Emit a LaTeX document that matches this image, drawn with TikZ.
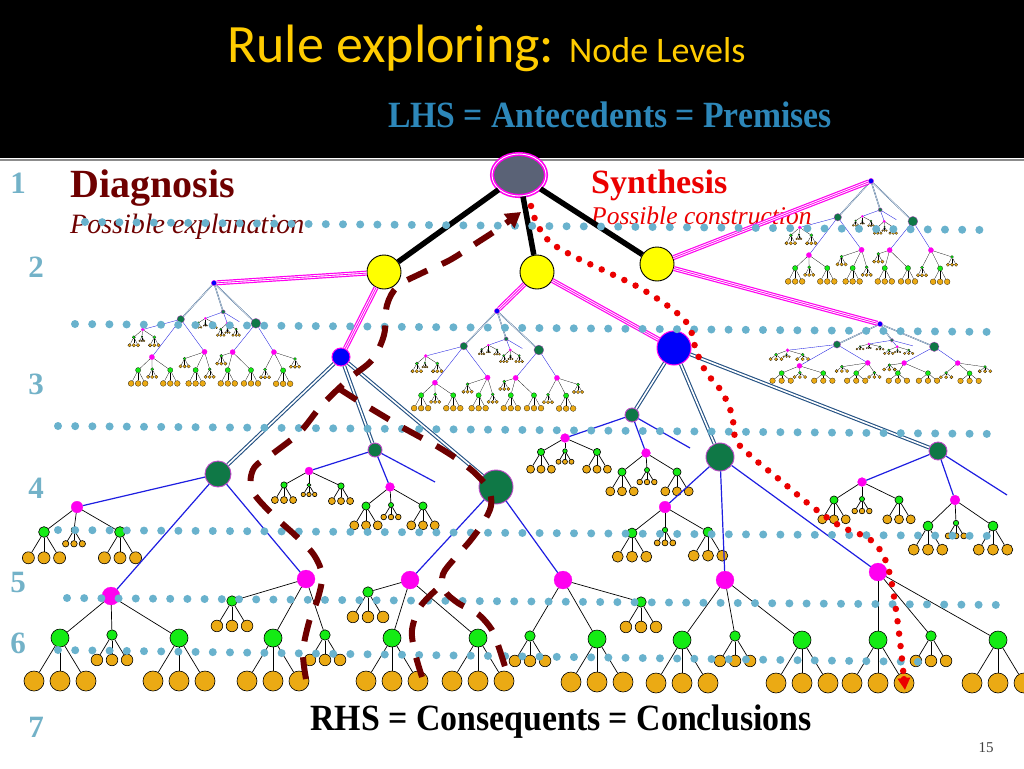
\documentclass[tikz,border=0pt]{standalone}
\usepackage{fontspec}
\setmainfont{Liberation Serif}
\newfontfamily\titlefont{Carlito}
\usetikzlibrary{shapes.geometric,arrows.meta}
\definecolor{ytitle}{RGB}{255,204,0}
\definecolor{lhsblue}{RGB}{45,135,185}
\definecolor{numblue}{RGB}{115,178,200}
\definecolor{dkred}{RGB}{110,0,0}
\definecolor{synred}{RGB}{235,0,0}
\definecolor{dotblue}{RGB}{105,178,205}
\definecolor{lgreen}{RGB}{20,235,20}
\definecolor{lorange}{RGB}{235,170,20}
\definecolor{lmag}{RGB}{255,0,240}
\definecolor{dkgreen}{RGB}{15,120,70}
\definecolor{dpurple}{RGB}{190,70,200}
\definecolor{bblue}{RGB}{0,0,250}
\definecolor{lineblue}{RGB}{30,30,225}
\definecolor{dblue}{RGB}{35,80,130}
\definecolor{rootgray}{RGB}{90,98,118}
\definecolor{yfill}{RGB}{255,255,0}

% green node with three orange leaves
\newcommand\mktri[4]{%
 \begin{scope}[shift={(#2,#3)}]
  \node[gnode,minimum size={18*#4*\zs}] (#1) at (0,0) {};
  \foreach \lk/\lx in {a/-26,b/0,c/26} {%
    \node[onode,minimum size={20*#4*\zs}] (#1\lk) at ({\lx*#4},{43*#4}) {};
    \draw[leafline] (#1) -- (#1\lk);
  }
 \end{scope}}
% magenta node with three green children
\newcommand\mkfam[5]{%
 \begin{scope}[shift={(#2,#3)}]
  \node[mnode,minimum size={18*#4*\zs}] (#1) at (0,0) {};
  \foreach \cid/\cx/\cy/\ct in {#5} {%
    \mktri{#1\cid}{\cx}{\cy}{\ct}
    \draw[leafline] (#1) -- (#1\cid);
  }
 \end{scope}}
% a level-3 subtree
\newcommand\mksub[6]{%
 \begin{scope}[shift={(#2,#3)},xscale=#4,yscale=#5]
  \def\zs{#6}%
  \node[bnode,minimum size={18*\zs}] (#1) at (0,0) {};
  \node[dnode,minimum size={26*\zs}] (#11) at (-123,117) {};
  \node[dnode,minimum size={14*\zs}] (#12) at (34,93) {};
  \node[dnode,minimum size={34*\zs}] (#13) at (155,130) {};
  \foreach \k in {1,2,3} {\draw[dline] (#1) -- (#1\k);}
  \mkfam{#11a}{-264}{150}{0.65}{L/-33/25/0.6,M/-3/23/0.32,R/43/25/0.6}
  \mkfam{#11b}{-230}{239}{1}{L/-51/42/1,M/1/39/0.58,R/68/42/1}
  \mkfam{#11c}{-35}{222}{1}{L/-74/22/0.58,M/-33/59/1,R/19/56/0.58}
  \mkfam{#12a}{-32}{114}{0.45}{L/-25/14/0.35,M/0/14/0.22,R/32/15/0.35}
  \mkfam{#12b}{49}{130}{0.5}{L/-24/19/0.45,M/1/18/0.28,R/33/19/0.45}
  \coordinate (#12e) at (94,125);
  \mkfam{#13a}{69}{223}{1}{L/-42/12/0.58,M/-18/58/1,R/68/58/1}
  \mkfam{#13b}{222}{223}{1}{L/-33/56/0.58,M/34/59/1,R/78/22/0.58}
  \foreach \f in {a,b,c} {\draw[bline] (#11) -- (#11\f);}
  \foreach \f in {a,b,e} {\draw[bline] (#12) -- (#12\f);}
  \foreach \f in {a,b} {\draw[bline] (#13) -- (#13\f);}
 \end{scope}}

\begin{document}
\begin{tikzpicture}[x=1pt,y=-1pt,
  gnode/.style={circle,inner sep=0pt,fill=lgreen,draw=black,line width={max(0.2,0.6*\zs)}},
  onode/.style={circle,inner sep=0pt,fill=lorange,draw=black,line width={max(0.2,0.6*\zs)}},
  mnode/.style={circle,inner sep=0pt,fill=lmag,draw=lmag,line width=0.2pt},
  dnode/.style={circle,inner sep=0pt,fill=dkgreen,draw=dpurple,line width={max(0.3,0.9*\zs)}},
  bnode/.style={circle,inner sep=0pt,fill=bblue,draw=lmag,line width={max(0.3,1*\zs)}},
  leafline/.style={draw=black,line width={max(0.25,0.7*\zs)}},
  bline/.style={draw=lineblue,line width={max(0.35,1.2*\zs)}},
  dline/.style={draw=dblue,double=white,line width={max(0.35,1.1*\zs)},double distance={max(0.45,1.6*\zs)}},
  mline/.style={draw=lmag,line width=0.8pt,preaction={draw=lmag,double=white,line width=1.2pt,double distance=2.6pt}},
  blk/.style={draw=black,line width=5.5pt},
  ynode/.style={circle,minimum size=34pt,inner sep=0pt,fill=yfill,draw=black,line width=0.9pt},
  rootnode/.style={ellipse,minimum width=54pt,minimum height=42pt,inner sep=0pt,fill=rootgray,draw=lmag,double=white,line width=1.6pt,double distance=0.9pt},
  numstyle/.style={text=numblue,font=\bfseries\fontsize{31}{34}\selectfont,inner sep=0pt},
  dotline/.style={draw=dotblue,line width=8pt,line cap=round,dash pattern=on 0pt off 17.2pt},
  drpath/.style={draw=dkred,line width=6pt,dash pattern=on 22pt off 16pt},
  reddots/.style={draw=synred,line width=6.5pt,line cap=round,dash pattern=on 0pt off 12.5pt}
]
\def\zs{1}
\fill[white] (0,0) rectangle (1024,768);
\useasboundingbox (0,0) rectangle (1024,768);
\fill[black] (0,0) rectangle (1024,158);
\draw[black!45,line width=1.5pt] (0,160) -- (1024,160);

% titles
\node[anchor=base west,inner sep=0pt,text=ytitle,font=\titlefont\fontsize{54}{60}\selectfont] (title) at (227,63) {Rule exploring:};
\node[anchor=base west,inner sep=0pt,text=ytitle,font=\titlefont\fontsize{36}{40}\selectfont] (title2) at (569,63) {Node Levels};
\node[anchor=base,inner sep=0pt,text=lhsblue,font=\bfseries\fontsize{37}{40}\selectfont] (lhs) at (610,127) {\scalebox{0.91}[1]{LHS = Antecedents = Premises}};

% level numbers
\node[numstyle] (n1) at (18,183) {1};
\node[numstyle] (n2) at (36,267) {2};
\node[numstyle] (n3) at (36,384) {3};
\node[numstyle] (n4) at (36,488) {4};
\node[numstyle] (n5) at (18,582) {5};
\node[numstyle] (n6) at (18,643) {6};
\node[numstyle] (n7) at (36,727) {7};

\node[anchor=base west,inner sep=0pt,text=dkred,font=\bfseries\fontsize{40}{44}\selectfont] (diag) at (70,197) {Diagnosis};
\node[anchor=base west,inner sep=0pt,text=dkred,font=\itshape\fontsize{28}{32}\selectfont] (diagsub) at (70,233) {Possible explanation};
\node[anchor=base west,inner sep=0pt,text=synred,font=\bfseries\fontsize{34}{38}\selectfont] (syn) at (591,193) {Synthesis};
\node[anchor=base west,inner sep=0pt,text=synred,font=\itshape\fontsize{25.5}{30}\selectfont] (synsub) at (591,224) {Possible construction};

\node[anchor=base,inner sep=0pt,text=black,font=\bfseries\fontsize{37}{40}\selectfont] (rhs) at (561,730) {\scalebox{0.915}[1]{RHS = Consequents = Conclusions}};
\node[inner sep=0pt,text=black!75,font=\fontsize{15}{18}\selectfont] (pg) at (986,748) {15};

% subtrees
\mksub{b}{341}{357}{1}{1}{1}
\mksub{ma}{214}{283}{0.27}{0.31}{0.29}
\mksub{mb}{497}{311}{0.27}{0.30}{0.29}
\mksub{mc}{871}{181}{0.27}{0.31}{0.29}
\mksub{md}{880}{324}{0.35}{0.175}{0.28}

% right big subtree
\node[bnode,minimum size=34pt] (c) at (674,348) {};
\node[dnode,minimum size=14pt] (c4) at (632,415) {};
\node[dnode,minimum size=28pt] (c5) at (720,457) {};
\node[dnode,minimum size=18pt] (c6) at (938,451) {};
\foreach \k in {4,5,6} {\draw[dline] (c) -- (c\k);}
\mkfam{c4a}{565}{438}{0.5}{L/-24/14/0.4,M/0/13/0.25,R/32/14/0.4}
\mkfam{c4b}{646}{453}{0.5}{L/-24/19/0.45,M/1/17/0.28,R/31/19/0.45}
\coordinate (c4e) at (690,448);
\mkfam{c5a}{665}{507}{0.65}{L/-33/26/0.55,M/0/23/0.3,R/43/25/0.55}
\mkfam{c5b}{725}{580}{1}{L/-43/60/1,M/10/56/0.58,R/77/60/1}
\mkfam{c5c}{878}{572}{1}{L/0/68/1,M/53/64/0.58,R/120/68/1}
\mkfam{c6a}{862}{482}{0.5}{L/-28/18/0.45,M/0/17/0.28,R/37/18/0.45}
\mkfam{c6b}{955}{500}{0.55}{L/-27/26/0.55,M/1/23/0.3,R/38/26/0.55}
\coordinate (c6e) at (1007,495);
\foreach \f in {a,b,e} {\draw[bline] (c4) -- (c4\f);}
\foreach \f in {a,b,c} {\draw[bline] (c5) -- (c5\f);}
\foreach \f in {a,b,e} {\draw[bline] (c6) -- (c6\f);}

% top levels
\node[rootnode] (r) at (519,175) {};
\node[ynode] (y1) at (384,272) {};
\node[ynode] (y2) at (537,272) {};
\node[ynode] (y3) at (657,264) {};
\draw[blk] (r) -- (y1);
\draw[blk] (r) -- (y2);
\draw[blk] (r) -- (y3);
\draw[mline] (y1) -- (ma);
\draw[mline] (y1) -- (b);
\draw[mline] (y2) -- (mb);
\draw[mline] (y2) -- (c);
\draw[mline] (y3) -- (mc);
\draw[mline] (y3) -- (md);

% dotted level lines
\coordinate (l1a) at (85,222); \coordinate (l1b) at (990,230);
\coordinate (l2a) at (75,324); \coordinate (l2b) at (998,332);
\coordinate (l3a) at (58,426); \coordinate (l3b) at (998,434);
\coordinate (l4a) at (58,530); \coordinate (l4b) at (1000,536);
\coordinate (l5a) at (67,598); \coordinate (l5b) at (1007,605);
\coordinate (l6a) at (58,650); \coordinate (l6b) at (930,662);
\foreach \i in {1,...,6} {\draw[dotline] (l\i a) -- (l\i b);}

% diagnosis paths (dark red dashed)
\coordinate (pa0) at (306,679);
\coordinate (pa1) at (521,212);
\draw[drpath,-{Triangle[length=15pt,width=17pt]}] plot[smooth,tension=0.55] coordinates {(pa0) (303,652) (309,622) (318,598) (322,575) (314,555) (296,536) (272,514) (252,490) (254,468) (275,452) (300,432) (322,405) (350,378) (372,360) (384,335) (387,305) (398,286) (422,273) (450,260) (475,244) (498,229) (pa1)};
\coordinate (pb0) at (338,388);
\coordinate (pb1) at (507,673);
\draw[drpath] plot[smooth,tension=0.55] coordinates {(pb0) (360,402) (380,414) (400,426) (420,437) (440,448) (460,461) (477,475) (489,490) (491,506) (483,523) (470,541) (455,558) (443,574) (444,590) (458,603) (478,614) (492,630) (499,648) (pb1)};
\coordinate (pc0) at (436,590);
\coordinate (pc1) at (422,677);
\draw[drpath] plot[smooth,tension=0.55] coordinates {(pc0) (420,607) (412,630) (415,653) (pc1)};

% synthesis path (red dots)
\coordinate (rd0) at (531,206);
\coordinate (rd1) at (905,690);
\draw[reddots,-{Triangle[length=12pt,width=12pt]}] plot[smooth,tension=0.55] coordinates {(rd0) (537,224) (550,242) (575,257) (605,271) (640,288) (672,309) (689,326) (696,350) (706,372) (722,392) (732,415) (736,440) (752,457) (780,480) (810,505) (840,526) (868,538) (882,553) (890,575) (896,610) (901,650) (rd1)};
\end{tikzpicture}
\end{document}
